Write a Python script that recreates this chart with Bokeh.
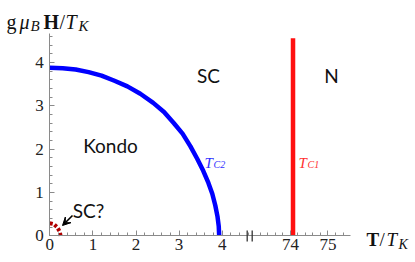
import numpy as np
from bokeh.plotting import figure
from bokeh.models import (Range1d, FixedTicker, CustomJSTickFormatter, Label,
                          Arrow, VeeHead, LinearAxis)
from bokeh.embed import file_html
from bokeh.resources import INLINE

# ---------------- data ----------------
tc2_T = [0, 0.3, 0.6, 0.9, 1.2, 1.5, 1.8, 2.1, 2.4, 2.65, 2.88, 3.08, 3.26,
         3.42, 3.56, 3.68, 3.77, 3.84, 3.89, 3.92, 3.93]
tc2_H = [3.88, 3.87, 3.84, 3.78, 3.70, 3.58, 3.45, 3.28, 3.07, 2.86, 2.60, 2.36,
         2.07, 1.78, 1.50, 1.22, 0.97, 0.70, 0.45, 0.22, 0.0]
sc_T = [0, 0.09, 0.17, 0.23, 0.25]
sc_H = [0.29, 0.27, 0.20, 0.10, 0.0]
tc1_T = [74.07, 74.07]
tc1_H = [0, 4.56]
x_major_left = [0, 1, 2, 3, 4]
x_major_right = [74, 75]
y_major = [0, 1, 2, 3, 4]

# broken-axis mapping (T -> display coordinate)
RIGHT_T0 = 73.0   # first T value after the break
D0 = 4.71         # display position of RIGHT_T0
K = 0.872         # compression of the right segment
X_END = 6.977
Y_END = 4.67
W, H = 414, 261


def xmap(t):
    a = np.asarray(t, dtype=float)
    return np.where(a > 50, D0 + (a - RIGHT_T0) * K, a)


# page pixel -> data (for annotation placement only)
def px(x):
    return (x - 49.3) / 43.1


def py(y):
    return (235.3 - y) / 43.3


p = figure(width=W, height=H, output_backend="svg", toolbar_location=None,
           x_range=Range1d(px(0), px(W)), y_range=Range1d(py(H), py(0)),
           x_axis_type=None, y_axis_type=None,
           min_border=0)
p.outline_line_color = None
p.grid.visible = False
p.background_fill_color = "white"
p.border_fill_color = "white"

# axes at fixed locations (crossing at the origin)
minor_left = [round(v, 2) for v in np.arange(0, 4.61, 0.2)]
minor_right = list(xmap([round(v, 2) for v in np.arange(73.2, 75.59, 0.2)]))
xaxis = LinearAxis(fixed_location=0, bounds=(0, X_END),
                   ticker=FixedTicker(ticks=list(xmap(x_major_left + x_major_right)),
                                      minor_ticks=minor_left + minor_right))
xaxis.formatter = CustomJSTickFormatter(args=dict(d0=D0, t0=RIGHT_T0, k=K), code="""
    if (tick > d0 - 0.05) { return (t0 + (tick - d0) / k).toFixed(0); }
    return tick.toFixed(0);
""")
yaxis = LinearAxis(fixed_location=0, bounds=(0, Y_END),
                   ticker=FixedTicker(ticks=y_major,
                                      minor_ticks=[round(v, 2) for v in np.arange(0, 4.61, 0.2)]))
p.add_layout(xaxis, "below")
p.add_layout(yaxis, "left")
for ax in (xaxis, yaxis):
    ax.axis_line_color = "#8a8a8a"
    ax.major_tick_line_color = "#8a8a8a"
    ax.minor_tick_line_color = "#8a8a8a"
    ax.major_tick_in = 5
    ax.major_tick_out = 0
    ax.minor_tick_in = 3
    ax.minor_tick_out = 0
    ax.major_label_text_font = "Liberation Serif"
    ax.major_label_text_font_size = "17px"
    ax.major_label_text_color = "#222222"
xaxis.major_label_standoff = 3
yaxis.major_label_standoff = 6

# curves
p.line(xmap(tc2_T), tc2_H, line_color="#0000ff", line_width=4.5)
p.line(xmap(tc1_T), tc1_H, line_color="#ff1010", line_width=4.5)
p.line(xmap(sc_T), sc_H, line_color="#b00000", line_width=4, line_dash="3 2")

# axis break marks
for bx in (246.7, 251.7):
    p.add_layout(Arrow(start=None, end=None, x_start=px(bx), y_start=py(241),
                       x_end=px(bx), y_end=py(230), line_color="#333333",
                       line_width=1.3))

# arrow for SC?
p.add_layout(Arrow(end=VeeHead(size=8, fill_color="black", line_color="black"),
                   x_start=px(72), y_start=py(215), x_end=px(62), y_end=py(225),
                   line_color="black", line_width=1.6))

SANS = "Lato"
SERIF = "Liberation Serif"


def lab(x, y, text, font=SANS, size="19px", style="normal", color="#111111",
        align="center", baseline="middle"):
    p.add_layout(Label(x=px(x), y=py(y), text=text, text_font=font,
                       text_font_size=size, text_font_style=style,
                       text_color=color, text_align=align,
                       text_baseline=baseline))


lab(208, 75, "SC")
lab(331, 75, "N")
lab(110, 145, "Kondo")
lab(88, 210, "SC?")

# T_C2 / T_C1
lab(204, 162, "T", font=SERIF, size="15px", style="italic", color="#3030ff",
    align="left", baseline="alphabetic")
lab(213, 164, "C2", font=SERIF, size="10px", style="italic", color="#3030ff",
    align="left", baseline="alphabetic")
lab(298, 162, "T", font=SERIF, size="15px", style="italic", color="#ff3030",
    align="left", baseline="alphabetic")
lab(307, 164, "C1", font=SERIF, size="10px", style="italic", color="#ff3030",
    align="left", baseline="alphabetic")

# y-axis title: g mu_B H / T_K
lab(6, 21, "g", font=SERIF, size="20px", align="left", baseline="alphabetic")
lab(19, 21, "\u03bc", font=SERIF, size="20px", style="italic", align="left",
    baseline="alphabetic")
lab(30, 25, "B", font=SERIF, size="15px", style="italic", align="left",
    baseline="alphabetic")
lab(43, 21, "H", font=SERIF, size="20px", style="bold", align="left",
    baseline="alphabetic")
lab(59, 21, "/", font=SERIF, size="20px", align="left", baseline="alphabetic")
lab(65, 21, "T", font=SERIF, size="20px", style="italic", align="left",
    baseline="alphabetic")
lab(78, 25, "K", font=SERIF, size="15px", style="italic", align="left",
    baseline="alphabetic")

# x-axis title: T / T_K
lab(366, 239, "T", font=SERIF, size="19px", style="bold", align="left",
    baseline="alphabetic")
lab(379, 239, "/", font=SERIF, size="19px", align="left", baseline="alphabetic")
lab(386, 239, "T", font=SERIF, size="19px", style="italic", align="left",
    baseline="alphabetic")
lab(398, 244, "K", font=SERIF, size="14px", style="italic", align="left",
    baseline="alphabetic")

open("out.html", "w").write(file_html(p, INLINE))
